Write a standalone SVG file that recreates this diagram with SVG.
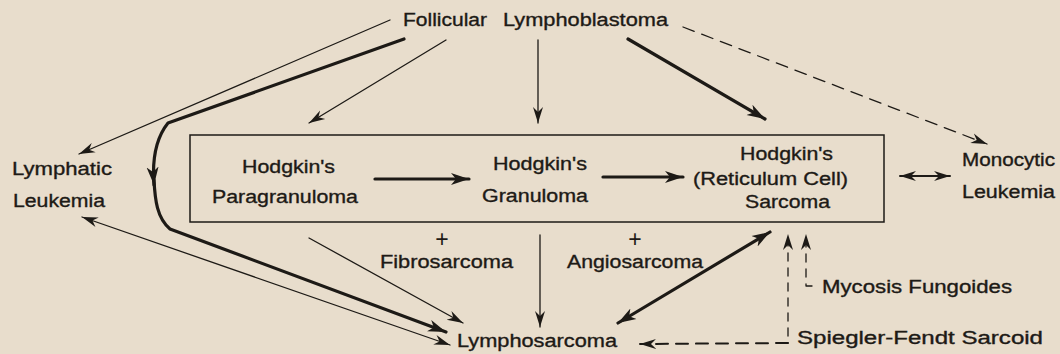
<svg xmlns="http://www.w3.org/2000/svg" width="1060" height="354" viewBox="0 0 1060 354">
<style>
text{font-family:"Liberation Sans",Arial,sans-serif;font-size:18px;fill:#1d1a16;stroke:#1d1a16;stroke-width:0.35px}
.plus{font-size:23px;stroke-width:0;text-anchor:middle}
.c{fill:none;stroke:#1d1a16;stroke-linecap:round;stroke-linejoin:round}
.t1{stroke-width:1.3}
.t2{stroke-width:2}
.t3{stroke-width:3.2}
.d{stroke-dasharray:12 8}
.ds{stroke-dasharray:8 7}
</style>
<defs>
<marker id="a" markerUnits="userSpaceOnUse" markerWidth="18" markerHeight="12" viewBox="0 0 18 12" refX="16" refY="6" orient="auto-start-reverse">
<path d="M0,1 L16,6 L0,11 L5,6 Z" fill="#1d1a16"/>
</marker>
<marker id="b" markerUnits="userSpaceOnUse" markerWidth="20" markerHeight="14" viewBox="0 0 20 14" refX="18" refY="7" orient="auto-start-reverse">
<path d="M0,1 L18,7 L0,13 L5,7 Z" fill="#1d1a16"/>
</marker>
</defs>
<rect width="1060" height="354" fill="#e8ddcc"/>
<g id="connectors">
<path class="c t1" d="M390,20 L79,154" marker-end="url(#a)"/>
<path class="c t3" d="M404,39 L168,123 C156,138 152,160 154,185" marker-end="url(#b)"/>
<path class="c t3" d="M154,180 C155,200 157,218 170,229 L446,332" marker-end="url(#b)"/>
<path class="c t1" d="M446,40 L309,123" marker-end="url(#a)"/>
<path class="c t1" d="M538,40 L538,123" marker-end="url(#a)"/>
<path class="c t3" d="M628,39 L765,119" marker-end="url(#b)"/>
<path class="c t1 d" d="M683,27 L987,144" marker-end="url(#a)"/>
<path class="c t3" d="M375,179 L469,179" marker-end="url(#b)"/>
<path class="c t3" d="M603,177 L683,177" marker-end="url(#b)"/>
<path class="c t2" d="M900,176 L950,176" marker-start="url(#a)" marker-end="url(#a)"/>
<path class="c t1" d="M309,238 L463,323" marker-end="url(#a)"/>
<path class="c t1" d="M82,217 L450,345" marker-start="url(#a)" marker-end="url(#a)"/>
<path class="c t1" d="M540,235 L540,327" marker-end="url(#a)"/>
<path class="c t3" d="M618,323 L770,232" marker-start="url(#b)" marker-end="url(#b)"/>
<path class="c t2 d" d="M788,343 L640,344" marker-end="url(#a)"/>
<path class="c t1 ds" d="M780,343 L788,343 L788,234" marker-end="url(#a)"/>
<path class="c t1 ds" d="M812,286 L806,286 L806,234" marker-end="url(#a)"/>
</g>
<g id="follicular">
<text x="403" y="26" textLength="84" lengthAdjust="spacingAndGlyphs">Follicular</text>
<text x="503" y="26" textLength="165" lengthAdjust="spacingAndGlyphs">Lymphoblastoma</text>
</g>
<g id="hodgkin-box">
<rect x="190" y="135" width="694" height="87" fill="none" stroke="#1d1a16" stroke-width="1.5"/>
</g>
<g id="paragranuloma">
<text x="242" y="173" textLength="93" lengthAdjust="spacingAndGlyphs">Hodgkin's</text>
<text x="212" y="203" textLength="146" lengthAdjust="spacingAndGlyphs">Paragranuloma</text>
</g>
<g id="granuloma">
<text x="493" y="170" textLength="94" lengthAdjust="spacingAndGlyphs">Hodgkin's</text>
<text x="482" y="202" textLength="106" lengthAdjust="spacingAndGlyphs">Granuloma</text>
</g>
<g id="sarcoma">
<text x="740" y="160" textLength="93" lengthAdjust="spacingAndGlyphs">Hodgkin's</text>
<text x="693" y="185" textLength="155" lengthAdjust="spacingAndGlyphs">(Reticulum Cell)</text>
<text x="745" y="208" textLength="85" lengthAdjust="spacingAndGlyphs">Sarcoma</text>
</g>
<g id="lymphatic-leukemia">
<text x="12" y="175" textLength="100" lengthAdjust="spacingAndGlyphs">Lymphatic</text>
<text x="13" y="207" textLength="92" lengthAdjust="spacingAndGlyphs">Leukemia</text>
</g>
<g id="monocytic-leukemia">
<text x="962" y="166" textLength="93" lengthAdjust="spacingAndGlyphs">Monocytic</text>
<text x="962" y="198" textLength="93" lengthAdjust="spacingAndGlyphs">Leukemia</text>
</g>
<g id="fibrosarcoma">
<text class="plus" x="442" y="247">+</text>
<text x="380" y="268" textLength="133" lengthAdjust="spacingAndGlyphs">Fibrosarcoma</text>
</g>
<g id="angiosarcoma">
<text class="plus" x="635" y="247">+</text>
<text x="567" y="268" textLength="136" lengthAdjust="spacingAndGlyphs">Angiosarcoma</text>
</g>
<g id="lymphosarcoma">
<text x="457" y="347" textLength="160" lengthAdjust="spacingAndGlyphs">Lymphosarcoma</text>
</g>
<g id="mycosis">
<text x="822" y="293" textLength="190" lengthAdjust="spacingAndGlyphs">Mycosis Fungoides</text>
</g>
<g id="spiegler">
<text x="797" y="344" textLength="246" lengthAdjust="spacingAndGlyphs">Spiegler-Fendt Sarcoid</text>
</g>
</svg>
